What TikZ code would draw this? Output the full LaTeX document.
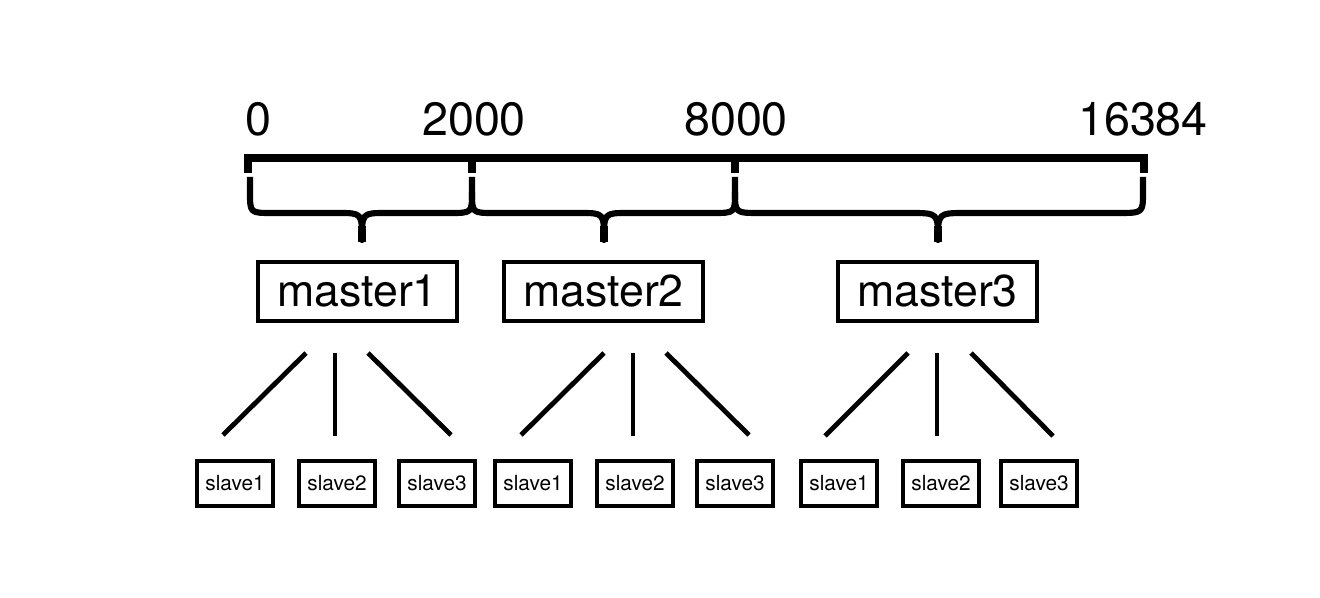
\documentclass[tikz,border=0pt]{standalone}
\usepackage{fontspec}
\setmainfont{TeX Gyre Heros}
\begin{document}
\begin{tikzpicture}[x=0.75pt,y=-0.75pt,
  numlabel/.style={anchor=base,inner sep=0pt,font=\fontsize{35pt}{37pt}\selectfont},
  masterbox/.style={draw,line width=3pt,inner sep=0pt,minimum width=149.25pt,minimum height=44.25pt,font=\fontsize{33.5pt}{35pt}\selectfont},
  slavebox/.style={draw,line width=3pt,inner sep=0pt,minimum width=57pt,minimum height=33.75pt,font=\fontsize{15.6pt}{17pt}\selectfont},
  ruler/.style={line width=6pt},
  bracepath/.style={line width=4.6pt,line join=round},
  tipstub/.style={line width=6.5pt},
  link/.style={line width=3.6pt}]
\useasboundingbox (0,0) rectangle (1320,598);
% labels
\node[numlabel] (n0) at (258,136) {0};
\node[numlabel] (n1) at (474,136) {2000};
\node[numlabel] (n2) at (736,136) {8000};
\node[numlabel] (n3) at (1143,136) {16384};
% ruler
\draw[ruler,line cap=butt] (248,173) -- (248,158) -- (1144,158) -- (1144,173);
\draw[ruler] (472,158) -- (472,173);
\draw[ruler] (735,158) -- (735,173);
% braces
\draw[bracepath] (250,177) -- (250,192) .. controls (250,213) .. (272,213) -- (338,213)
   .. controls (362,213) .. (362,240) .. controls (362,213) .. (386,213) -- (450,213)
   .. controls (472,213) .. (472,192) -- (472,177);
\draw[bracepath] (472,192) .. controls (472,213) .. (494,213) -- (580,213)
   .. controls (604,213) .. (604,240) .. controls (604,213) .. (628,213) -- (713,213)
   .. controls (735,213) .. (735,192) -- (735,177);
\draw[bracepath] (735,192) .. controls (735,213) .. (760,213) -- (910,213)
   .. controls (938,213) .. (938,240) .. controls (938,213) .. (966,213) -- (1118,213)
   .. controls (1143,213) .. (1143,192) -- (1143,177);
\draw[tipstub] (362,226) -- (362,242);
\draw[tipstub] (604,226) -- (604,242);
\draw[tipstub] (938,226) -- (938,242);
% masters
\node[masterbox] (m1) at (357.5,291.5) {master1};
\node[masterbox] (m2) at (603.5,291.5) {master2};
\node[masterbox] (m3) at (937.5,291.5) {master3};
% slaves
\node[slavebox] (s11) at (235,483) {slave1};
\node[slavebox] (s12) at (337,483) {slave2};
\node[slavebox] (s13) at (437,483) {slave3};
\node[slavebox] (s21) at (533,483) {slave1};
\node[slavebox] (s22) at (635,483) {slave2};
\node[slavebox] (s23) at (735,483) {slave3};
\node[slavebox] (s31) at (839,483) {slave1};
\node[slavebox] (s32) at (941,483) {slave2};
\node[slavebox] (s33) at (1039,483) {slave3};
% connector end points
\coordinate (a11) at (306,353); \coordinate (b11) at (223,435);
\coordinate (a12) at (335,353); \coordinate (b12) at (335,436);
\coordinate (a13) at (368,353); \coordinate (b13) at (451,435);
\coordinate (a21) at (604,353); \coordinate (b21) at (521,435);
\coordinate (a22) at (633,353); \coordinate (b22) at (633,436);
\coordinate (a23) at (666,353); \coordinate (b23) at (749,435);
\coordinate (a31) at (908,353); \coordinate (b31) at (825,436);
\coordinate (a32) at (937,353); \coordinate (b32) at (937,436);
\coordinate (a33) at (971,353); \coordinate (b33) at (1053,436);
\foreach \i in {1,2,3}{\foreach \j in {1,2,3}{\draw[link] (a\i\j) -- (b\i\j);}}
\end{tikzpicture}
\end{document}
